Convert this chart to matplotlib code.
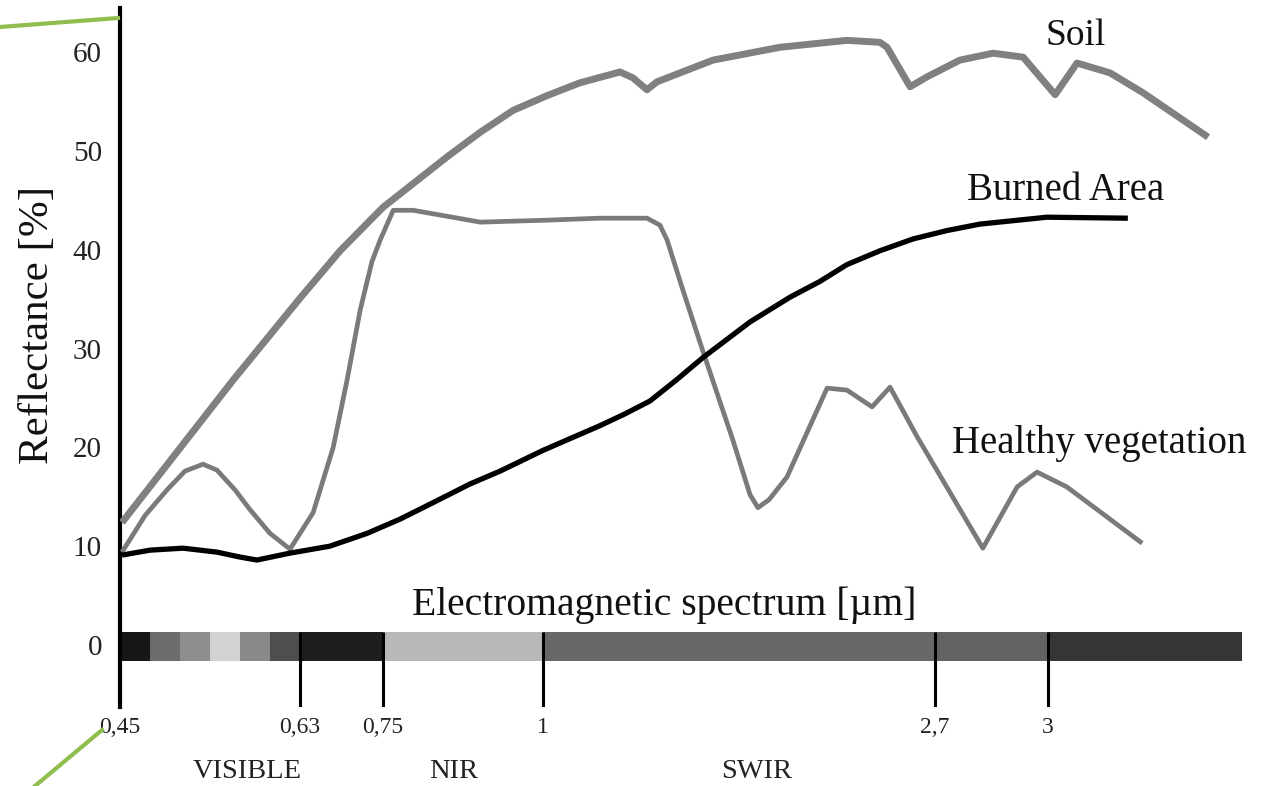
import numpy as np
import matplotlib
matplotlib.use("Agg")
import matplotlib.pyplot as plt
from matplotlib.lines import Line2D

plt.rcParams['font.family'] = ['Liberation Serif', 'DejaVu Serif']

# ---------------- data ----------------
# wavelength tick marks (µm) and their labels
tick_wl = [0.45, 0.63, 0.75, 1.0, 2.7, 3.0]
tick_labels = ["0,45", "0,63", "0,75", "1", "2,7", "3"]

# spectrum bar segments (µm edges) and shades
band_edges = [0.45, 0.48, 0.51, 0.54, 0.57, 0.60, 0.63, 0.75, 1.0, 2.7, 3.0, 3.515]
band_colors = ['#161616', '#6c6c6c', '#8e8e8e', '#d2d2d2', '#898989', '#4e4e4e',
               '#1e1e1e', '#b9b9b9', '#686868', '#626262', '#353535']

region_names = ["VISIBLE", "NIR", "SWIR"]
region_wl = [0.577, 0.861, 1.928]

soil_wl = [0.452, 0.563, 0.63, 0.688, 0.75, 0.85, 0.902, 0.953, 1.017, 1.16, 1.334,
           1.39, 1.451, 1.494, 1.737, 2.028, 2.318, 2.461, 2.492, 2.592, 2.665,
           2.766, 2.854, 2.934, 3.019, 3.077, 3.165, 3.252, 3.425]
soil_ref = [12.4, 26.8, 35.1, 39.9, 44.3, 49.4, 51.9, 54.1, 55.6, 56.9, 58.0,
            57.4, 56.2, 57.0, 59.2, 60.5, 61.2, 61.0, 60.5, 56.5, 57.5,
            59.2, 59.9, 59.5, 55.7, 58.9, 57.9, 55.9, 51.4]

veg_wl = [0.452, 0.475, 0.497, 0.515, 0.533, 0.547, 0.565, 0.58, 0.60, 0.62, 0.649,
          0.678, 0.698, 0.717, 0.734, 0.746, 0.766, 0.797, 0.902, 1.017, 1.247,
          1.451, 1.507, 1.538, 1.607, 1.694, 1.824, 1.898, 1.932, 1.98, 2.058,
          2.232, 2.318, 2.427, 2.505, 2.622, 2.827, 2.918, 2.971, 3.050, 3.250]
veg_ref = [9.4, 13.1, 15.7, 17.6, 18.3, 17.7, 15.7, 13.7, 11.3, 9.7, 13.4,
           20.0, 26.8, 33.9, 38.8, 41.0, 44.0, 44.0, 42.8, 43.0, 43.2,
           43.2, 42.5, 41.0, 35.9, 29.7, 20.7, 15.2, 13.9, 14.7, 17.0,
           26.0, 25.8, 24.1, 26.1, 21.1, 9.8, 16.0, 17.5, 16.0, 10.3]

burn_wl = [0.452, 0.48, 0.513, 0.547, 0.57, 0.587, 0.62, 0.673, 0.727, 0.777, 0.828,
           0.886, 0.933, 1.0, 1.247, 1.356, 1.464, 1.577, 1.694, 1.898, 2.071,
           2.201, 2.318, 2.461, 2.605, 2.732, 2.819, 2.997, 3.212]
burn_ref = [9.1, 9.6, 9.8, 9.4, 8.9, 8.6, 9.3, 10.0, 11.3, 12.75, 14.4,
            16.3, 17.6, 19.7, 22.2, 23.4, 24.7, 26.8, 29.1, 32.7, 35.2,
            36.8, 38.5, 39.9, 41.1, 41.95, 42.6, 43.3, 43.2]

y_ticks = [0, 10, 20, 30, 40, 50, 60]

# ---------------- piecewise axis layout ----------------
WL_ANCH = np.array([0.45, 0.63, 0.75, 1.0, 2.7, 3.0, 3.7])
POS_ANCH = np.array([0.0, 180.0, 263.0, 423.0, 815.0, 928.0, 1191.7])

def fwd(x):
    return np.interp(x, WL_ANCH, POS_ANCH)

def inv(p):
    return np.interp(p, POS_ANCH, WL_ANCH)

W, H = 1281, 786
fig = plt.figure(figsize=(W / 100, H / 100), dpi=100)
ax = fig.add_axes([120 / W, (H - 707) / H, 1 - 120 / W, (707 - 8) / H])
ax.set_xscale('function', functions=(fwd, inv))
ax.set_xlim(0.45, inv(1161))
ax.set_ylim((645 - 707) / 9.88, (645 - 8) / 9.88)

for s in ['top', 'right', 'bottom']:
    ax.spines[s].set_visible(False)
ax.spines['left'].set_linewidth(3.0)
ax.spines['left'].set_color('black')

ax.set_yticks(y_ticks)
ax.set_yticklabels([str(v) for v in y_ticks])
ax.tick_params(axis='y', length=0, pad=13, labelsize=21, labelcolor='#222222')
ax.set_xticks(tick_wl)
ax.set_xticklabels(tick_labels)
ax.tick_params(axis='x', length=0, pad=7, labelsize=17, labelcolor='#222222')
ax.xaxis.set_minor_locator(matplotlib.ticker.NullLocator())

ax.set_ylabel("Reflectance [%]", fontsize=31, color='#111111', va='center')
ax.yaxis.set_label_coords((38 - 120) / 1161, (707 - 325) / 699)

# spectrum bar
lefts = band_edges[:-1]
widths = np.diff(band_edges)
ax.bar(lefts, 2.94, width=widths, bottom=-1.62, align='edge',
       color=band_colors, edgecolor='none', zorder=2)

# tick lines through the bar
ax.vlines(tick_wl[1:], (645 - 707) / 9.88, 1.32, colors='black', linewidth=2.2, zorder=3)

# curves
ax.plot(soil_wl, soil_ref, color='#808080', linewidth=5.0,
        solid_joinstyle='round', solid_capstyle='butt', zorder=4)
ax.plot(veg_wl, veg_ref, color='#7a7a7a', linewidth=3.4,
        solid_joinstyle='round', solid_capstyle='butt', zorder=4)
ax.plot(burn_wl, burn_ref, color='black', linewidth=3.8,
        solid_joinstyle='round', solid_capstyle='butt', zorder=5)

# annotations
ax.text(3.074, 61.7, "Soil", fontsize=27, ha='center', va='center', color='#111111')
ax.text(3.048, 46.05, "Burned Area", fontsize=28, ha='center', va='center', color='#111111')
ax.text(3.135, 20.4, "Healthy vegetation", fontsize=28, ha='center', va='center', color='#111111')
ax.text(1.525, 4.05, "Electromagnetic spectrum [\u00b5m]", fontsize=28.5,
        ha='center', va='center', color='#111111')
for name, wl in zip(region_names, region_wl):
    ax.text(wl, (645 - 772) / 9.88, name, fontsize=20.5, ha='center', va='center',
            color='#222222', clip_on=False)

# decorative green strokes of the slide template
fig.add_artist(Line2D([0 / W, 118 / W], [1 - 27 / H, 1 - 18 / H],
                      color='#8fbe4e', linewidth=3.0, transform=fig.transFigure))
fig.add_artist(Line2D([35 / W, 102 / W], [1 - 786 / H, 1 - 730 / H],
                      color='#8fbe4e', linewidth=3.0, transform=fig.transFigure))

fig.savefig("out.png", dpi=100, facecolor='white')
